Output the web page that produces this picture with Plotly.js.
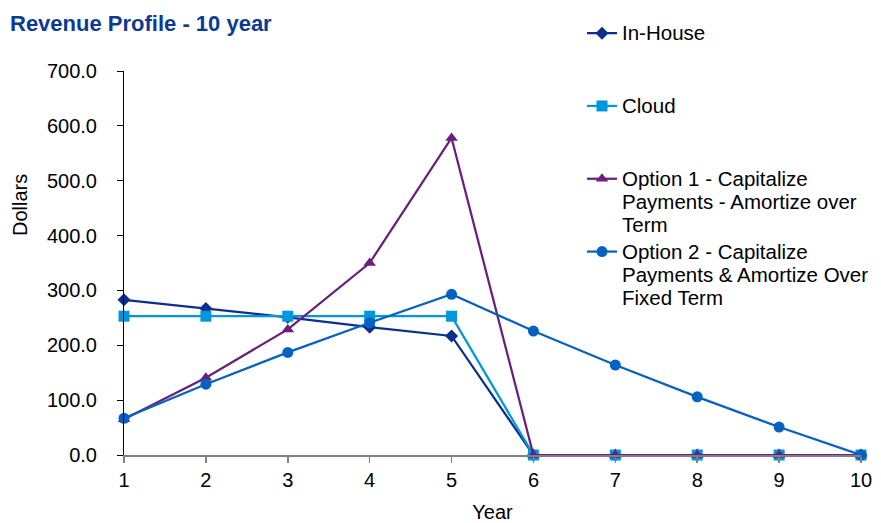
<!DOCTYPE html>
<html>
<head>
<meta charset="utf-8">
<script src="https://cdn.plot.ly/plotly-3.0.1.min.js"></script>
<style>
  html, body { margin: 0; padding: 0; background: #ffffff; }
  #chart { width: 881px; height: 523px; }
</style>
</head>
<body>
<div id="chart"></div>
<script>
// Revenue profile over a 10 year horizon, four funding approaches
const years = [1, 2, 3, 4, 5, 6, 7, 8, 9, 10];
const seriesNames = [
  'In-House',
  'Cloud',
  'Option 1 - Capitalize<br>Payments - Amortize over<br>Term',
  'Option 2 - Capitalize<br>Payments &amp; Amortize Over<br>Fixed Term'
];
const inHouse = [283, 267, 251, 233, 217, 0, 0, 0, 0, 0];
const cloud   = [253, 253, 253, 253, 253, 0, 0, 0, 0, 0];
const option1 = [65, 141, 229, 350, 578, 0, 0, 0, 0, 0];
const option2 = [67, 129, 187, 241, 293, 226, 164, 106, 51, 0];
const yTickVals = [0, 100, 200, 300, 400, 500, 600, 700];

const colors = ['#0B2F8E', '#0097DD', '#6A1F7E', '#0562C1'];
const symbols = ['diamond', 'square', 'triangle-up', 'circle'];
const sizes = [10, 11, 11, 11];
const values = [inHouse, cloud, option1, option2];

// legend rows use a tight line pitch with slightly larger glyphs;
// single-line names are padded so every entry takes the same slot
const legendLabel = (name) =>
  name.split('<br>').map(part => '<span style="font-size:20.5px">' + part + '</span>').join('<br>');
const legendNames = [
  legendLabel(seriesNames[0]) + '<br> <br> ',
  legendLabel(seriesNames[1]) + '<br> <br> ',
  legendLabel(seriesNames[2]),
  legendLabel(seriesNames[3])
];

const traces = values.map((v, i) => ({
  type: 'scatter',
  mode: 'lines+markers',
  x: years,
  y: v,
  name: legendNames[i],
  cliponaxis: false,
  line: { color: colors[i], width: 2.25 },
  marker: { color: colors[i], symbol: symbols[i], size: sizes[i] }
}));

const baseFont = { family: 'Arial, "Liberation Sans", sans-serif', size: 20, color: '#000000' };

const layout = {
  width: 881,
  height: 523,
  margin: { l: 124, r: 20, t: 71, b: 68, autoexpand: false },
  paper_bgcolor: '#ffffff',
  plot_bgcolor: 'rgba(0,0,0,0)',
  font: baseFont,
  showlegend: true,
  title: {
    text: '<b>Revenue Profile - 10 year</b>',
    font: { family: 'Arial, "Liberation Sans", sans-serif', size: 22, color: '#0B3A96' },
    xref: 'container', yref: 'container',
    x: 10 / 881, xanchor: 'left',
    y: 1 - 23 / 523, yanchor: 'middle'
  },
  xaxis: {
    range: [1, 10],
    tickmode: 'array',
    tickvals: years,
    ticktext: years.map(String),
    showgrid: false,
    zeroline: false,
    showline: true,
    linecolor: '#808080',
    linewidth: 1.5,
    ticks: 'outside',
    ticklen: 6,
    tickcolor: '#808080',
    tickwidth: 1.5,
    ticklabelstandoff: 0,
    tickfont: baseFont,
    title: { text: 'Year', font: baseFont, standoff: 16 }
  },
  yaxis: {
    range: [0, 700],
    tickmode: 'array',
    tickvals: yTickVals,
    ticktext: yTickVals.map(v => v.toFixed(1)),
    showgrid: false,
    zeroline: false,
    showline: true,
    linecolor: '#000000',
    linewidth: 1,
    ticks: 'outside',
    ticklen: 6,
    tickcolor: '#000000',
    tickwidth: 1,
    ticklabelstandoff: 16,
    tickfont: baseFont
  },
  annotations: [{
    text: 'Dollars',
    textangle: -90,
    xref: 'paper', yref: 'paper',
    x: (20 - 124) / 737, xanchor: 'center',
    y: (455 - 205) / 384, yanchor: 'middle',
    showarrow: false,
    font: baseFont
  }],
  legend: {
    x: (582 - 124) / 737,
    xanchor: 'left',
    y: 1 + (71 - 15) / 384,
    yanchor: 'top',
    bgcolor: 'rgba(0,0,0,0)',
    borderwidth: 0,
    valign: 'top',
    tracegroupgap: 0,
    itemwidth: 30,
    maxheight: 1000,
    font: { family: 'Arial, "Liberation Sans", sans-serif', size: 17.9, color: '#000000' }
  }
};

Plotly.newPlot('chart', traces, layout, { staticPlot: true, displayModeBar: false });
</script>
</body>
</html>
